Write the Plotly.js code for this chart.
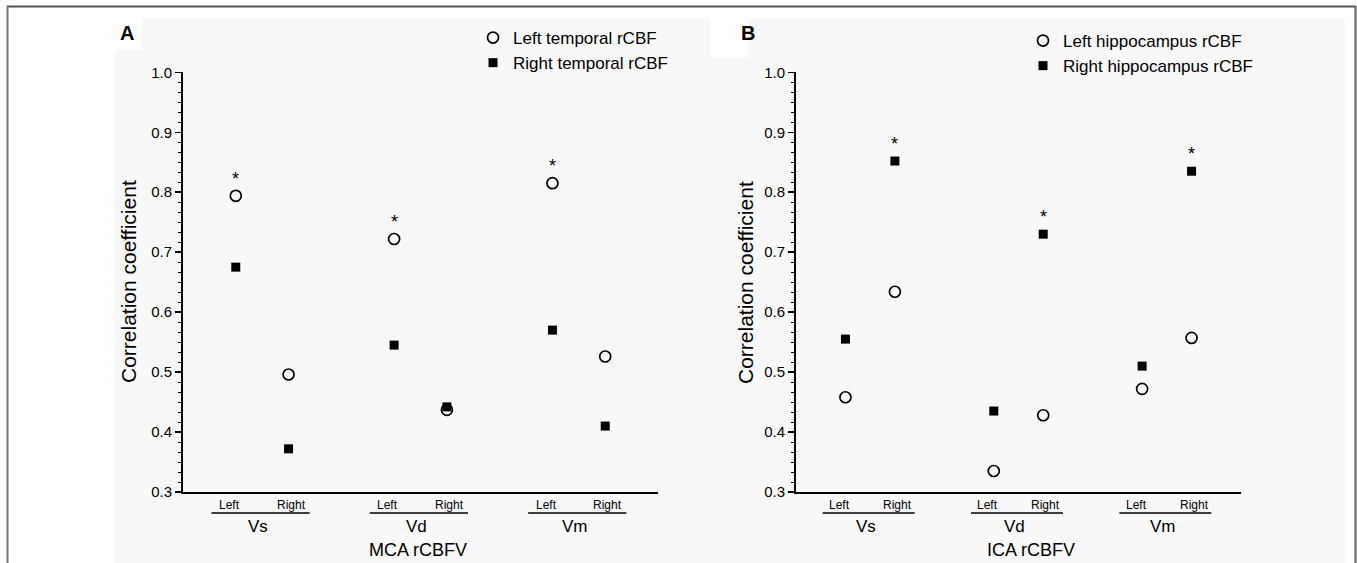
<!DOCTYPE html>
<html><head><meta charset="utf-8">
<script src="https://cdn.plot.ly/plotly-3.0.1.min.js"></script>
<style>html,body{margin:0;padding:0;background:#fff;}#chart{width:1357px;height:563px;}</style>
</head><body><div id="chart"></div>
<script>
// ---- data ----
const groups = ['Vs', 'Vd', 'Vm'];
const sides = ['Left', 'Right'];
const slots = [1, 2, 4, 5, 7, 8];            // Vs-L, Vs-R, Vd-L, Vd-R, Vm-L, Vm-R
const slotSide = ['Left', 'Right', 'Left', 'Right', 'Left', 'Right'];
const groupCenters = [1.5, 4.5, 7.5];
const yTicks = [0.3, 0.4, 0.5, 0.6, 0.7, 0.8, 0.9, 1.0];
const yTickText = ['0.3', '0.4', '0.5', '0.6', '0.7', '0.8', '0.9', '1.0'];

// Panel A: MCA rCBFV vs temporal rCBF
const leftTemporal  = [0.794, 0.496, 0.722, 0.437, 0.815, 0.526];
const rightTemporal = [0.675, 0.372, 0.545, 0.442, 0.570, 0.410];
const starsA        = [1, 0, 1, 0, 1, 0];   // asterisk above left temporal

// Panel B: ICA rCBFV vs hippocampus rCBF
const leftHippo  = [0.458, 0.634, 0.335, 0.428, 0.472, 0.557];
const rightHippo = [0.555, 0.852, 0.435, 0.730, 0.510, 0.835];
const starsB     = [0, 1, 0, 1, 0, 1];      // asterisk above right hippocampus

// ---- layout helpers ----
const W = 1357, H = 563;
const px = v => v / W, py = v => (H - v) / H;
const SANS = 'Liberation Sans, Arial, sans-serif';
const yBottom = py(492), yTop = py(72);

const circ = {symbol: 'circle-open', size: 11, color: '#000', line: {width: 1.7, color: '#000'}};
const sq = {symbol: 'square', size: 9, color: '#000'};

const traces = [
  {x: slots, y: leftTemporal, xaxis: 'x', yaxis: 'y', type: 'scatter', mode: 'markers', name: 'Left temporal rCBF', marker: circ, legend: 'legend', legendgroup: 'a1', cliponaxis: false},
  {x: slots, y: rightTemporal, xaxis: 'x', yaxis: 'y', type: 'scatter', mode: 'markers', name: 'Right temporal rCBF', marker: sq, legend: 'legend', legendgroup: 'a2', cliponaxis: false},
  {x: slots, y: leftHippo, xaxis: 'x2', yaxis: 'y2', type: 'scatter', mode: 'markers', name: 'Left hippocampus rCBF', marker: circ, legend: 'legend2', legendgroup: 'b1', cliponaxis: false},
  {x: slots, y: rightHippo, xaxis: 'x2', yaxis: 'y2', type: 'scatter', mode: 'markers', name: 'Right hippocampus rCBF', marker: sq, legend: 'legend2', legendgroup: 'b2', cliponaxis: false}
];

function yAxis(anchor) {
  return {
    domain: [yBottom, yTop], anchor: anchor, range: [0.3, 1.0005],
    tickmode: 'array', tickvals: yTicks, ticktext: yTickText,
    ticks: 'outside', ticklen: 6, tickwidth: 1.5, tickcolor: '#000',
    minor: {dtick: 0.1 / 6, tick0: 0.3, ticks: 'outside', ticklen: 3.5, tickwidth: 1, tickcolor: '#000', showgrid: false},
    showline: true, linewidth: 2, linecolor: '#000', showgrid: false, zeroline: false,
    tickfont: {family: SANS, size: 15, color: '#000'}, fixedrange: true
  };
}
function xAxis(domainPx, anchor) {
  return {
    domain: [px(domainPx[0]), px(domainPx[1])], anchor: anchor, range: [0, 9],
    showline: true, linewidth: 2, linecolor: '#000', showgrid: false, zeroline: false,
    showticklabels: false, ticks: '', fixedrange: true
  };
}

const annotations = [];
const shapes = [];
function panelLabels(xref, yTitleX, axisTitle, titleX) {
  slots.forEach((s, i) => {
    const off = slotSide[i] === 'Left' ? -0.12 : 0.05;
    annotations.push({xref: xref, yref: 'paper', x: s + off, y: yBottom, yshift: -13, xanchor: 'center', yanchor: 'middle', showarrow: false,
      text: slotSide[i], font: {family: SANS, size: 12, color: '#000'}});
  });
  groups.forEach((g, i) => {
    const c = groupCenters[i];
    shapes.push({type: 'line', xref: xref, yref: 'paper', x0: c - 0.96, x1: c + 0.9, y0: py(513), y1: py(513), line: {color: '#000', width: 1.6}});
    annotations.push({xref: xref, yref: 'paper', x: c - 0.08, y: yBottom, yshift: -34, xanchor: 'center', yanchor: 'middle', showarrow: false,
      text: g, font: {family: SANS, size: 17, color: '#000'}});
  });
  annotations.push({xref: xref, yref: 'paper', x: titleX, y: yBottom, yshift: -58, xanchor: 'center', yanchor: 'middle', showarrow: false,
    text: axisTitle, font: {family: SANS, size: 18, color: '#000'}});
  annotations.push({xref: 'paper', yref: 'paper', x: px(yTitleX), y: py(282), xanchor: 'center', yanchor: 'middle', textangle: -90, showarrow: false,
    text: 'Correlation coefficient', font: {family: SANS, size: 21, color: '#000'}});
}
panelLabels('x', 128, 'MCA rCBFV', 4.45);
panelLabels('x2', 745, 'ICA rCBFV', 4.75);

function stars(xref, yref, vals, flags) {
  slots.forEach((s, i) => {
    if (flags[i]) annotations.push({xref: xref, yref: yref, x: s, y: vals[i], yshift: 17, xanchor: 'center', yanchor: 'middle', showarrow: false, text: '*',
      font: {family: SANS, size: 18, color: '#000'}});
  });
}
stars('x', 'y', leftTemporal, starsA);
stars('x2', 'y2', rightHippo, starsB);

annotations.push({xref: 'paper', yref: 'paper', x: px(127), y: py(33), xanchor: 'center', yanchor: 'middle', showarrow: false, text: '<b>A</b>', font: {family: SANS, size: 20, color: '#000'}});
annotations.push({xref: 'paper', yref: 'paper', x: px(748), y: py(33), xanchor: 'center', yanchor: 'middle', showarrow: false, text: '<b>B</b>', font: {family: SANS, size: 20, color: '#000'}});

// background panels & frame
shapes.unshift(
  {type: 'rect', xref: 'paper', yref: 'paper', x0: px(115), x1: px(1345), y0: 0, y1: py(19), fillcolor: '#f8f8f8', line: {width: 0}, layer: 'below'},
  {type: 'rect', xref: 'paper', yref: 'paper', x0: px(115), x1: px(142), y0: py(50), y1: py(19), fillcolor: '#ffffff', line: {width: 0}, layer: 'below'},
  {type: 'rect', xref: 'paper', yref: 'paper', x0: px(710), x1: px(748), y0: py(58), y1: py(19), fillcolor: '#ffffff', line: {width: 0}, layer: 'below'},
  {type: 'line', xref: 'paper', yref: 'paper', x0: px(7), x1: px(1356), y0: py(6.5), y1: py(6.5), line: {color: '#555', width: 2}},
  {type: 'line', xref: 'paper', yref: 'paper', x0: px(7.5), x1: px(7.5), y0: 0, y1: py(6.5), line: {color: '#777', width: 2}},
  {type: 'line', xref: 'paper', yref: 'paper', x0: px(1355.5), x1: px(1355.5), y0: 0, y1: py(6.5), line: {color: '#777', width: 2.5}}
);

const legendBase = {bgcolor: 'rgba(0,0,0,0)', borderwidth: 0, font: {family: SANS, size: 17, color: '#000'},
  xanchor: 'left', yanchor: 'top', tracegroupgap: 0, itemclick: false, itemdoubleclick: false};

const layout = {
  width: W, height: H, margin: {l: 0, r: 0, t: 0, b: 0},
  paper_bgcolor: '#ffffff', plot_bgcolor: 'rgba(0,0,0,0)',
  showlegend: true,
  xaxis: xAxis([183, 658], 'y'),
  yaxis: yAxis('x'),
  xaxis2: xAxis([796, 1241], 'y2'),
  yaxis2: yAxis('x2'),
  legend: Object.assign({}, legendBase, {x: px(473), y: py(20)}),
  legend2: Object.assign({}, legendBase, {x: px(1023), y: py(23)}),
  annotations: annotations,
  shapes: shapes
};
Plotly.newPlot('chart', traces, layout, {displayModeBar: false, staticPlot: true});
</script>
</body></html>
